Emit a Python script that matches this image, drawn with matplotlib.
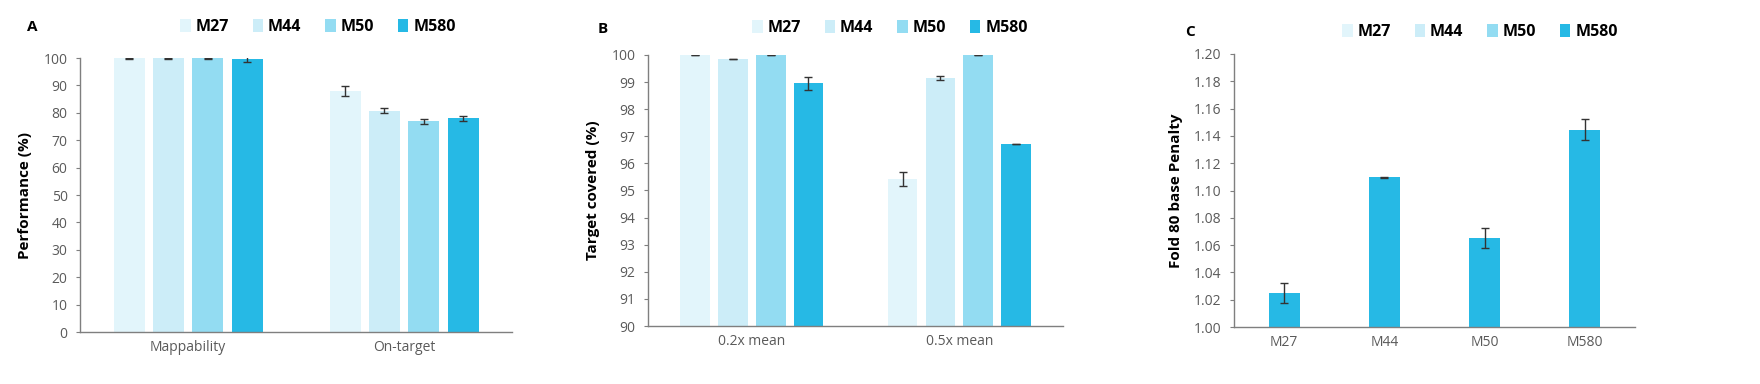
import numpy as np
import matplotlib.pyplot as plt
from matplotlib.patches import Patch

plt.rcParams['font.family'] = ['Open Sans', 'DejaVu Sans']

# data
series = ['M27', 'M44', 'M50', 'M580']
colores = ['#e2f5fb', '#ccedf8', '#93dcf2', '#26b9e5']

cat_a = ['Mappability', 'On-target']
perf = [[99.9, 88.0], [99.9, 80.8], [99.9, 77.0], [99.6, 78.0]]
perf_err = [[0.1, 1.8], [0.1, 1.0], [0.1, 0.9], [1.1, 1.0]]

cat_b = ['0.2x mean', '0.5x mean']
cubierto = [[100.0, 95.42], [99.86, 99.15], [100.0, 100.0], [98.95, 96.72]]
cubierto_err = [[0.0, 0.27], [0.0, 0.07], [0.0, 0.0], [0.24, 0.01]]

fold80 = [1.025, 1.1096, 1.065, 1.1446]
fold80_err = [0.0072, 0.0003, 0.0073, 0.0075]

gris = '#5a5a5a'
W, H = 1760, 384


def estilo(ax):
    for s in ['top', 'right']:
        ax.spines[s].set_visible(False)
    for s in ['left', 'bottom']:
        ax.spines[s].set_color('#7f7f7f')
        ax.spines[s].set_linewidth(1.0)
    ax.tick_params(axis='both', length=0, labelsize=10, labelcolor=gris, pad=6)
    ax.tick_params(axis='y', length=3, color='#7f7f7f')


def leyenda(ax, xc, yc):
    h = [Patch(facecolor=c, edgecolor='none') for c in colores]
    ax.legend(h, series, loc='center', bbox_to_anchor=(xc / W, 1 - yc / H),
              bbox_transform=fig.transFigure, ncol=4,
              frameon=False, prop={'weight': 'bold', 'size': 11.5},
              handlelength=0.65, handleheight=0.85, handletextpad=0.3,
              columnspacing=1.5, borderaxespad=0, borderpad=0)


def barras_agrupadas(ax, cats, valores, errores, base):
    x = np.arange(len(cats))
    w = 0.143
    paso = 0.182
    for i in range(len(series)):
        pos = x + (i - 1.5) * paso
        alto = np.array(valores[i]) - base
        ax.bar(pos, alto, w, bottom=base, color=colores[i], zorder=2)
        ax.errorbar(pos, valores[i], yerr=errores[i], fmt='none', ecolor='#333333',
                    elinewidth=1, capsize=3, capthick=1, zorder=3)
    ax.set_xticks(x)
    ax.set_xticklabels(cats)
    ax.set_xlim(-0.5, len(cats) - 0.5)


fig = plt.figure(figsize=(17.6, 3.84), dpi=100)

axA = fig.add_axes([0.0455, 0.1354, 0.2455, 0.7135])
barras_agrupadas(axA, cat_a, perf, perf_err, 0)
axA.set_ylim(0, 100)
axA.set_yticks(np.arange(0, 101, 10))
axA.set_ylabel('Performance (%)', fontsize=11, fontweight='bold', labelpad=8)
estilo(axA)
leyenda(axA, 318, 27)
fig.text(27 / W, 1 - 27 / H, 'A', fontsize=11, fontweight='bold', va='center')

axB = fig.add_axes([0.3682, 0.151, 0.2358, 0.706])
barras_agrupadas(axB, cat_b, cubierto, cubierto_err, 90)
axB.set_ylim(90, 100)
axB.set_yticks(np.arange(90, 101, 1))
axB.set_ylabel('Target covered (%)', fontsize=11, fontweight='bold', labelpad=8)
estilo(axB)
leyenda(axB, 890, 28)
fig.text(598 / W, 1 - 29 / H, 'B', fontsize=11, fontweight='bold', va='center')

axC = fig.add_axes([0.7011, 0.1484, 0.2278, 0.711])
xc = np.arange(len(series))
axC.bar(xc, np.array(fold80) - 1.0, 0.31, bottom=1.0, color=colores[3], zorder=2)
axC.errorbar(xc, fold80, yerr=fold80_err, fmt='none', ecolor='#333333',
             elinewidth=1, capsize=3, capthick=1, zorder=3)
axC.set_xticks(xc)
axC.set_xticklabels(series)
axC.set_xlim(-0.5, 3.5)
axC.set_ylim(1.0, 1.2)
axC.set_yticks(np.arange(1.0, 1.201, 0.02))
axC.set_yticklabels(['%.2f' % v for v in np.arange(1.0, 1.201, 0.02)])
axC.set_ylabel('Fold 80 base Penalty', fontsize=11, fontweight='bold', labelpad=8)
estilo(axC)
leyenda(axC, 1480, 32)
fig.text(1185 / W, 1 - 32 / H, 'C', fontsize=11, fontweight='bold', va='center')

fig.savefig('out.png', dpi=100, facecolor='white')
